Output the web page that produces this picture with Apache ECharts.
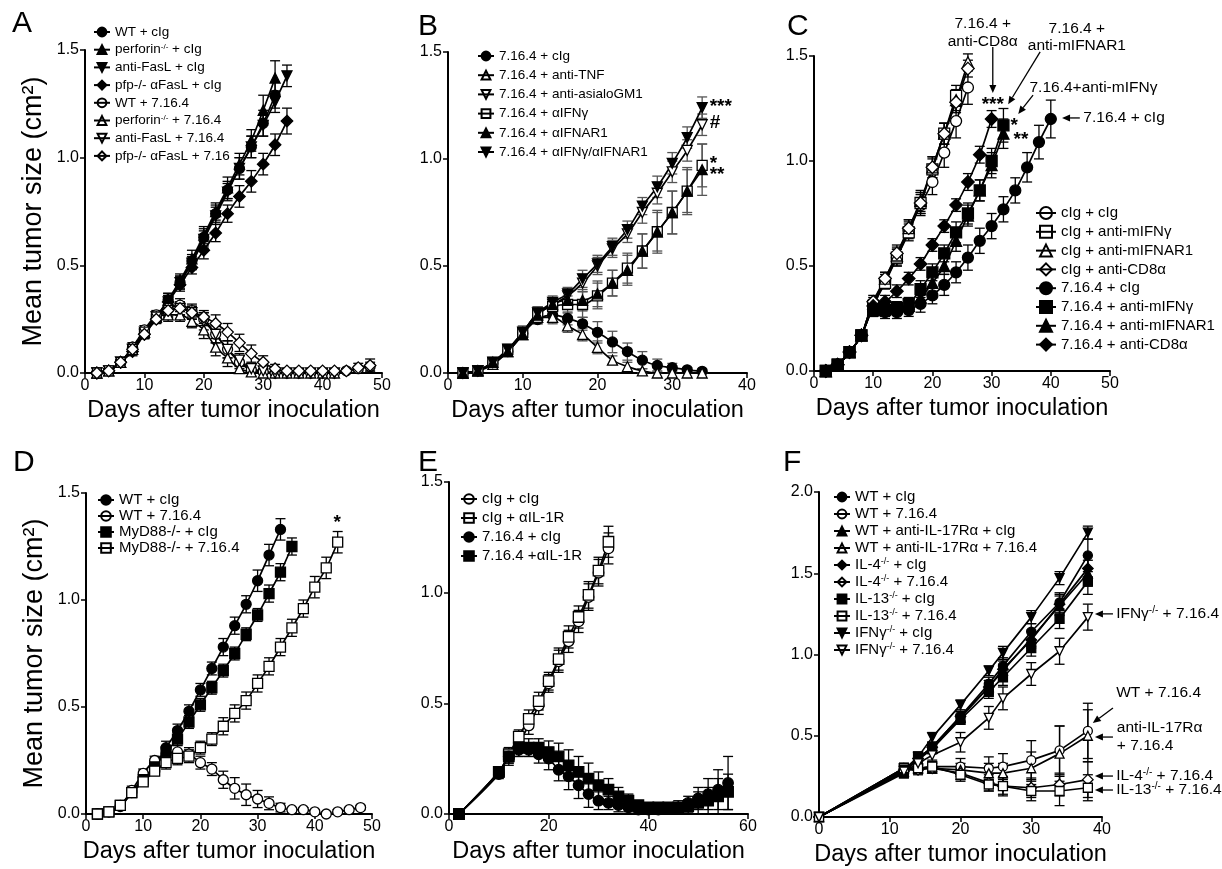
<!DOCTYPE html>
<html><head><meta charset="utf-8">
<script src="https://cdn.jsdelivr.net/npm/echarts@6/dist/echarts.min.js"></script>
<style>html,body{margin:0;padding:0;background:#fff}#c{width:1222px;height:869px}</style>
</head><body><div id="c"></div><script>
// ---------------- DATA ----------------
const xAxisTitle = 'Days after tumor inoculation';
const yAxisTitle = 'Mean tumor size (cm²)';

// Panel A
const daysA = [2,4,6,8,10,12,14,16,18,20,22,24,26,28,30,32,34,36,38,40,42,44,46,48];
const A_wt_cig = [0,0.01,0.05,0.12,0.19,0.26,0.34,0.42,0.52,0.63,0.74,0.85,0.95,1.05,1.16,1.29];
const A_wt_cig_err = [0.005,0.01,0.01,0.02,0.02,0.02,0.03,0.03,0.03,0.04,0.04,0.04,0.05,0.05,0.06,0.06];
const A_pfn_cig = [0,0.01,0.05,0.11,0.19,0.26,0.34,0.43,0.53,0.64,0.75,0.86,0.97,1.08,1.22,1.37];
const A_pfn_cig_err = [0.005,0.01,0.01,0.02,0.02,0.02,0.03,0.03,0.04,0.04,0.04,0.05,0.05,0.05,0.07,0.08];
const A_fasl_cig = [0,0.01,0.05,0.11,0.18,0.26,0.33,0.42,0.51,0.62,0.73,0.84,0.95,1.05,1.15,1.26,1.38];
const A_fasl_cig_err = [0.005,0.01,0.01,0.02,0.02,0.02,0.03,0.03,0.03,0.04,0.04,0.04,0.05,0.05,0.05,0.05,0.05];
const A_pfpf_cig = [0,0.01,0.05,0.1,0.18,0.25,0.33,0.41,0.49,0.57,0.65,0.74,0.82,0.89,0.97,1.06,1.17];
const A_pfpf_cig_err = [0.005,0.01,0.01,0.02,0.02,0.02,0.03,0.03,0.03,0.04,0.04,0.04,0.05,0.05,0.05,0.05,0.06];
const A_wt_716 = [0,0.01,0.05,0.12,0.2,0.27,0.3,0.315,0.29,0.25,0.18,0.11,0.05,0.015,0.005,0,0,0,0,0,0,0.01,0.02,0.03];
const A_wt_716_err = [0.005,0.01,0.01,0.02,0.02,0.02,0.03,0.03,0.03,0.03,0.04,0.04,0.03,0.02,0.01,0.005,0.005,0.005,0.005,0.005,0.005,0.01,0.01,0.02];
const A_pfn_716 = [0,0.01,0.05,0.11,0.19,0.26,0.27,0.27,0.24,0.2,0.12,0.07,0.02,0.005,0,0,0,0,0,0,0];
const A_pfn_716_err = [0.005,0.01,0.01,0.02,0.02,0.02,0.03,0.03,0.03,0.04,0.04,0.04,0.03,0.01,0.005,0.005,0.005,0.005,0.005,0.005,0.005];
const A_fasl_716 = [0,0.01,0.05,0.11,0.19,0.26,0.29,0.3,0.28,0.24,0.18,0.11,0.06,0.02,0.01,0,0,0,0,0,0];
const A_fasl_716_err = [0.005,0.01,0.01,0.02,0.02,0.02,0.03,0.03,0.03,0.04,0.04,0.04,0.03,0.02,0.01,0.005,0.005,0.005,0.005,0.005,0.005];
const A_pfpf_716 = [0,0.01,0.05,0.11,0.18,0.25,0.29,0.3,0.28,0.26,0.23,0.19,0.14,0.09,0.05,0.02,0.01,0.01,0.01,0.01,0.01,0.01,0.025,0.035];
const A_pfpf_716_err = [0.005,0.01,0.01,0.02,0.02,0.02,0.03,0.03,0.03,0.03,0.04,0.04,0.04,0.04,0.03,0.02,0.01,0.01,0.01,0.01,0.01,0.01,0.02,0.03];

// Panel B
const daysB = [2,4,6,8,10,12,14,16,18,20,22,24,26,28,30,32,34];
const B_cig = [0,0.01,0.045,0.1,0.185,0.25,0.27,0.255,0.23,0.19,0.145,0.1,0.06,0.035,0.025,0.015,0.008];
const B_cig_err = [0.005,0.01,0.01,0.02,0.02,0.02,0.03,0.03,0.03,0.05,0.05,0.04,0.04,0.03,0.02,0.01,0.01];
const B_tnf = [0,0.01,0.04,0.1,0.18,0.26,0.26,0.22,0.18,0.12,0.06,0.03,0.01,0,0,0,0];
const B_tnf_err = [0.005,0.01,0.01,0.02,0.02,0.03,0.03,0.03,0.03,0.03,0.02,0.02,0.01,0.01,0.01,0.01,0.01];
const B_asgm = [0,0.01,0.05,0.11,0.19,0.28,0.32,0.36,0.42,0.5,0.58,0.65,0.75,0.84,0.94,1.04,1.16];
const B_asgm_err = [0.005,0.01,0.01,0.02,0.03,0.03,0.03,0.03,0.04,0.04,0.04,0.04,0.05,0.05,0.05,0.05,0.05];
const B_ifng = [0,0.01,0.05,0.11,0.19,0.28,0.31,0.32,0.32,0.36,0.42,0.49,0.57,0.66,0.75,0.85,0.97];
const B_ifng_err = [0.01,0.01,0.01,0.02,0.02,0.03,0.03,0.04,0.06,0.06,0.06,0.07,0.08,0.09,0.1,0.1,0.1];
const B_ifnar = [0,0.01,0.05,0.1,0.18,0.27,0.32,0.34,0.34,0.37,0.42,0.48,0.57,0.66,0.75,0.85,0.95];
const B_ifnar_err = [0.01,0.01,0.01,0.02,0.02,0.03,0.03,0.04,0.05,0.06,0.06,0.07,0.08,0.1,0.1,0.11,0.12];
const B_both = [0,0.01,0.05,0.11,0.19,0.28,0.33,0.37,0.44,0.51,0.59,0.67,0.78,0.87,0.98,1.1,1.24];
const B_both_err = [0.005,0.01,0.01,0.02,0.02,0.03,0.03,0.03,0.04,0.04,0.04,0.04,0.04,0.05,0.05,0.05,0.05];

// Panel C
const daysC = [2,4,6,8,10,12,14,16,18,20,22,24,26,28,30,32,34,36,38,40];
const C_cc = [0,0.03,0.09,0.17,0.31,0.43,0.54,0.67,0.79,0.9,1.04,1.19,1.35];
const C_cc_err = [0.01,0.01,0.02,0.02,0.03,0.03,0.04,0.04,0.05,0.06,0.07,0.08,0.08];
const C_cifng = [0,0.03,0.09,0.17,0.31,0.42,0.54,0.66,0.8,0.96,1.13,1.31];
const C_cifng_err = [0.01,0.01,0.02,0.02,0.03,0.03,0.04,0.04,0.05,0.05,0.05,0.05];
const C_cifnar = [0,0.03,0.09,0.17,0.32,0.44,0.55,0.68,0.81,0.97,1.13,1.29,1.47];
const C_cifnar_err = [0.01,0.01,0.02,0.02,0.03,0.03,0.04,0.04,0.05,0.05,0.05,0.05,0.04];
const C_ccd8 = [0,0.03,0.09,0.17,0.33,0.44,0.56,0.68,0.8,0.97,1.13,1.28,1.44];
const C_ccd8_err = [0.01,0.01,0.02,0.02,0.03,0.03,0.04,0.04,0.05,0.05,0.05,0.05,0.04];
const C_tc = [0,0.03,0.09,0.17,0.29,0.28,0.28,0.29,0.32,0.36,0.41,0.47,0.54,0.62,0.69,0.77,0.86,0.97,1.09,1.2];
const C_tc_err = [0.01,0.01,0.02,0.02,0.03,0.03,0.03,0.03,0.04,0.04,0.05,0.05,0.06,0.06,0.06,0.06,0.06,0.07,0.08,0.09];
const C_tifng = [0,0.03,0.09,0.17,0.29,0.29,0.3,0.32,0.39,0.47,0.56,0.66,0.75,0.86,1.0,1.17];
const C_tifng_err = [0.01,0.01,0.02,0.02,0.03,0.03,0.03,0.03,0.04,0.04,0.04,0.05,0.05,0.05,0.06,0.08];
const C_tifnar = [0,0.03,0.09,0.17,0.29,0.3,0.3,0.31,0.35,0.42,0.5,0.62,0.74,0.86,0.98,1.13];
const C_tifnar_err = [0.01,0.01,0.02,0.02,0.03,0.03,0.03,0.03,0.04,0.04,0.04,0.05,0.05,0.05,0.06,0.07];
const C_tcd8 = [0,0.03,0.09,0.17,0.31,0.33,0.38,0.44,0.51,0.6,0.69,0.79,0.9,1.03,1.2];
const C_tcd8_err = [0.01,0.01,0.02,0.02,0.03,0.03,0.03,0.03,0.03,0.03,0.03,0.03,0.04,0.04,0.04];

// Panel D
const daysD = [2,4,6,8,10,12,14,16,18,20,22,24,26,28,30,32,34,36,38,40,42,44,46,48];
const D_wc = [0,0.01,0.035,0.1,0.17,0.22,0.31,0.39,0.48,0.58,0.68,0.78,0.88,0.98,1.09,1.21,1.33];
const D_wc_err = [0.005,0.01,0.01,0.02,0.02,0.02,0.03,0.03,0.03,0.03,0.03,0.04,0.04,0.04,0.05,0.05,0.05];
const D_w7 = [0,0.01,0.04,0.11,0.19,0.25,0.28,0.29,0.28,0.24,0.21,0.16,0.12,0.09,0.07,0.05,0.03,0.02,0.02,0.01,0,0.01,0.02,0.03];
const D_w7_err = [0.005,0.01,0.01,0.02,0.02,0.02,0.03,0.03,0.03,0.03,0.03,0.04,0.05,0.05,0.04,0.03,0.02,0.01,0.01,0.01,0.01,0.01,0.01,0.01];
const D_mc = [0,0.01,0.04,0.1,0.16,0.22,0.29,0.35,0.43,0.51,0.59,0.67,0.75,0.84,0.93,1.03,1.13,1.25];
const D_mc_err = [0.005,0.01,0.01,0.02,0.02,0.02,0.03,0.03,0.03,0.03,0.03,0.03,0.03,0.03,0.03,0.04,0.04,0.04];
const D_m7 = [0,0.01,0.04,0.1,0.15,0.2,0.24,0.26,0.27,0.31,0.35,0.41,0.47,0.53,0.61,0.69,0.78,0.87,0.96,1.06,1.15,1.27];
const D_m7_err = [0.005,0.01,0.01,0.02,0.02,0.02,0.03,0.03,0.03,0.03,0.03,0.04,0.04,0.04,0.04,0.04,0.04,0.04,0.04,0.05,0.05,0.05];

// Panel E
const daysE = [2,10,12,14,16,18,20,22,24,26,28,30,32,34,36,38,40,42,44,46,48,50,52,54,56];
const E_cc = [0,0.19,0.26,0.32,0.4,0.49,0.59,0.69,0.78,0.87,0.98,1.09,1.2];
const E_cc_err = [0.005,0.02,0.03,0.03,0.04,0.04,0.04,0.05,0.05,0.05,0.06,0.06,0.07];
const E_cil = [0,0.19,0.27,0.35,0.43,0.51,0.6,0.7,0.8,0.89,0.99,1.1,1.23];
const E_cil_err = [0.005,0.02,0.03,0.03,0.04,0.04,0.04,0.05,0.05,0.05,0.06,0.06,0.07];
const E_tc = [0,0.18,0.26,0.29,0.29,0.27,0.25,0.2,0.17,0.13,0.09,0.06,0.05,0.04,0.03,0.02,0.02,0.02,0.025,0.03,0.05,0.07,0.09,0.11,0.14];
const E_tc_err = [0.005,0.02,0.04,0.03,0.03,0.04,0.05,0.05,0.06,0.06,0.06,0.04,0.03,0.03,0.02,0.02,0.02,0.02,0.02,0.02,0.03,0.05,0.07,0.09,0.12];
const E_til = [0,0.19,0.26,0.3,0.3,0.3,0.28,0.26,0.22,0.19,0.16,0.13,0.11,0.08,0.06,0.04,0.03,0.03,0.03,0.03,0.035,0.05,0.06,0.08,0.1];
const E_til_err = [0.005,0.02,0.03,0.04,0.04,0.04,0.05,0.06,0.07,0.07,0.07,0.06,0.05,0.04,0.03,0.02,0.02,0.02,0.02,0.03,0.03,0.05,0.06,0.08,0.08];

// Panel F
const daysF = [0,12,14,16,20,24,26,30,34,38];
const F_wt_cig = [0,0.28,0.36,0.43,0.62,0.82,0.93,1.14,1.32,1.61];
const F_wt_cig_err = [0,0.03,0.03,0.03,0.03,0.04,0.05,0.05,0.06,0.1];
const F_wt_716 = [0,0.3,0.3,0.31,0.31,0.3,0.31,0.35,0.41,0.53];
const F_wt_716_err = [0,0.03,0.03,0.03,0.05,0.07,0.08,0.12,0.15,0.17];
const F_il17_cig = [0,0.28,0.35,0.42,0.61,0.8,0.9,1.1,1.3,1.5];
const F_il17_cig_err = [0,0.03,0.03,0.03,0.03,0.04,0.04,0.05,0.06,0.08];
const F_il17_716 = [0,0.3,0.3,0.3,0.29,0.27,0.27,0.3,0.39,0.5];
const F_il17_716_err = [0,0.03,0.03,0.03,0.04,0.06,0.06,0.1,0.17,0.16];
const F_il4_cig = [0,0.28,0.36,0.43,0.62,0.8,0.91,1.09,1.31,1.53];
const F_il4_cig_err = [0,0.03,0.03,0.03,0.03,0.04,0.05,0.05,0.06,0.08];
const F_il4_716 = [0,0.29,0.29,0.3,0.27,0.21,0.19,0.18,0.2,0.23];
const F_il4_716_err = [0,0.03,0.03,0.03,0.04,0.05,0.05,0.06,0.07,0.11];
const F_il13_cig = [0,0.27,0.37,0.42,0.6,0.77,0.86,1.04,1.22,1.45];
const F_il13_cig_err = [0,0.03,0.03,0.03,0.03,0.04,0.05,0.05,0.06,0.08];
const F_il13_716 = [0,0.3,0.3,0.31,0.26,0.2,0.19,0.16,0.16,0.18];
const F_il13_716_err = [0,0.03,0.03,0.03,0.04,0.04,0.06,0.06,0.09,0.08];
const F_ifng_cig = [0,0.29,0.37,0.49,0.69,0.9,1.01,1.23,1.47,1.75];
const F_ifng_cig_err = [0,0.03,0.03,0.03,0.03,0.03,0.04,0.04,0.04,0.04];
const F_ifng_716 = [0,0.28,0.33,0.38,0.46,0.61,0.73,0.88,1.02,1.23];
const F_ifng_716_err = [0,0.03,0.03,0.03,0.06,0.07,0.07,0.07,0.08,0.08];

// Annotations (data units)
const notesB = [{t:'***', at:[35,1.245]}, {t:'#', at:[35,1.17]}, {t:'*', at:[35,0.98]}, {t:'**', at:[35,0.925]}];
const notesC = [
  {t:'7.16.4 +\nanti-CD8α', at:[28.5,1.61], align:'center'},
  {t:'7.16.4 +\nanti-mIFNAR1', at:[44.4,1.59], align:'center'},
  {t:'7.16.4+anti-mIFNγ', at:[36.4,1.35]},
  {t:'***', at:[30.2,1.27], align:'center'},
  {t:'*', at:[33.2,1.17]},
  {t:'**', at:[33.7,1.1]},
  {t:'7.16.4 + cIg', at:[45.5,1.205]}
];
const arrowsC = [[[30.2,1.543],[30.2,1.324]], [[38.2,1.52],[32.8,1.27]], [[37.0,1.314],[34.5,1.224]], [[44.9,1.205],[41.9,1.205]]];
const notesD = [{t:'*', at:[43.9,1.36], align:'center'}];
const notesF = [
  {t:'IFNγ⁻/⁻ + 7.16.4', at:[42.0,1.25]},
  {t:'WT + 7.16.4', at:[42.0,0.763]},
  {t:'anti-IL-17Rα\n+ 7.16.4', at:[42.1,0.495]},
  {t:'IL-4⁻/⁻ + 7.16.4', at:[42.0,0.252]},
  {t:'IL-13⁻/⁻ + 7.16.4', at:[42.0,0.166]}
];
const arrowsF = [[[41.55,1.25],[39.0,1.25]], [[41.55,0.671],[38.7,0.578]], [[41.55,0.492],[39.0,0.492]], [[41.55,0.252],[39.0,0.252]], [[41.55,0.166],[39.0,0.166]]];

// ---------------- CHART ----------------
const FONT = '"Liberation Sans", Arial, Helvetica, sans-serif';
const TRI_DOWN = 'path://M0,0L10,0L5,10Z';
const SYM = {circle:'circle', square:'rect', tri:'triangle', triDown:TRI_DOWN, diamond:'diamond'};
const SUP = '⁻/⁻';
const supFmt = n => n.split(SUP).join('{s|-/-}');

const panels = [
 {letter:'A', lp:[12,9], grid:{left:85,top:50,width:297,height:323}, xMax:50, xInt:10, yMax:1.5, yName:true, days:daysA, smooth:0.35, ss:10, err:'#000',
  lg:{left:93, top:25, fs:13.5, lh:14, gap:3.7, iw:16, ih:11},
  s:[{n:'WT + cIg', y:'circle', f:1, v:A_wt_cig, e:A_wt_cig_err},
     {n:'perforin⁻/⁻ + cIg', y:'tri', f:1, v:A_pfn_cig, e:A_pfn_cig_err},
     {n:'anti-FasL + cIg', y:'triDown', f:1, v:A_fasl_cig, e:A_fasl_cig_err},
     {n:'pfp-/- αFasL + cIg', y:'diamond', f:1, v:A_pfpf_cig, e:A_pfpf_cig_err},
     {n:'WT + 7.16.4', y:'circle', f:0, v:A_wt_716, e:A_wt_716_err},
     {n:'perforin⁻/⁻ + 7.16.4', y:'tri', f:0, v:A_pfn_716, e:A_pfn_716_err},
     {n:'anti-FasL + 7.16.4', y:'triDown', f:0, v:A_fasl_716, e:A_fasl_716_err},
     {n:'pfp-/- αFasL + 7.16', y:'diamond', f:0, v:A_pfpf_716, e:A_pfpf_716_err}]},
 {letter:'B', lp:[418,12], grid:{left:448,top:52,width:299,height:321}, xMax:40, xInt:10, yMax:1.5, days:daysB, smooth:0.35, ss:10, err:'#555',
  lg:{left:477, top:48.5, fs:13.5, lh:15, gap:4.2, iw:16, ih:11},
  s:[{n:'7.16.4 + cIg', y:'circle', f:1, v:B_cig, e:B_cig_err},
     {n:'7.16.4 + anti-TNF', y:'tri', f:0, v:B_tnf, e:B_tnf_err},
     {n:'7.16.4 + anti-asialoGM1', y:'triDown', f:0, v:B_asgm, e:B_asgm_err},
     {n:'7.16.4 + αIFNγ', y:'square', f:0, v:B_ifng, e:B_ifng_err},
     {n:'7.16.4 + αIFNAR1', y:'tri', f:1, v:B_ifnar, e:B_ifnar_err},
     {n:'7.16.4 + αIFNγ/αIFNAR1', y:'triDown', f:1, v:B_both, e:B_both_err}]},
 {letter:'C', lp:[787,12], grid:{left:814,top:56,width:296,height:315}, xMax:50, xInt:10, yMax:1.5, days:daysC, smooth:0.35, ss:11, err:'#000',
  lg:{left:1035, top:205, fs:15, lh:16, gap:2.8, iw:20, ih:15},
  s:[{n:'cIg + cIg', y:'circle', f:0, v:C_cc, e:C_cc_err},
     {n:'cIg + anti-mIFNγ', y:'square', f:0, v:C_cifng, e:C_cifng_err},
     {n:'cIg + anti-mIFNAR1', y:'tri', f:0, v:C_cifnar, e:C_cifnar_err},
     {n:'cIg + anti-CD8α', y:'diamond', f:0, v:C_ccd8, e:C_ccd8_err},
     {n:'7.16.4 + cIg', y:'circle', f:1, v:C_tc, e:C_tc_err},
     {n:'7.16.4 + anti-mIFNγ', y:'square', f:1, v:C_tifng, e:C_tifng_err},
     {n:'7.16.4 + anti-mIFNAR1', y:'tri', f:1, v:C_tifnar, e:C_tifnar_err},
     {n:'7.16.4 + anti-CD8α', y:'diamond', f:1, v:C_tcd8, e:C_tcd8_err}]},
 {letter:'D', lp:[13,448], grid:{left:86,top:493,width:286,height:321}, xMax:50, xInt:10, yMax:1.5, yName:true, days:daysD, smooth:0.35, ss:10, err:'#000',
  lg:{left:97, top:492.5, fs:15, lh:15, gap:1, iw:16, ih:12},
  s:[{n:'WT + cIg', y:'circle', f:1, v:D_wc, e:D_wc_err},
     {n:'WT + 7.16.4', y:'circle', f:0, v:D_w7, e:D_w7_err},
     {n:'MyD88-/- + cIg', y:'square', f:1, v:D_mc, e:D_mc_err},
     {n:'MyD88-/- + 7.16.4', y:'square', f:0, v:D_m7, e:D_m7_err}]},
 {letter:'E', lp:[418,448], grid:{left:449,top:482,width:299,height:332}, xMax:60, xInt:20, yMax:1.5, days:daysE, smooth:0.35, ss:10.5, err:'#000',
  lg:{left:460, top:491, fs:15, lh:16, gap:3, iw:16, ih:12},
  s:[{n:'cIg + cIg', y:'circle', f:0, v:E_cc, e:E_cc_err},
     {n:'cIg + αIL-1R', y:'square', f:0, v:E_cil, e:E_cil_err},
     {n:'7.16.4 + cIg', y:'circle', f:1, v:E_tc, e:E_tc_err},
     {n:'7.16.4 +αIL-1R', y:'square', f:1, v:E_til, e:E_til_err}]},
 {letter:'F', lp:[783,448], grid:{left:819,top:492,width:283,height:325}, xMax:40, xInt:10, yMax:2.0, days:daysF, smooth:false, ss:9, err:'#000',
  lg:{left:833, top:489, fs:15, lh:16, gap:1, iw:16, ih:11},
  s:[{n:'WT + cIg', y:'circle', f:1, v:F_wt_cig, e:F_wt_cig_err},
     {n:'WT + 7.16.4', y:'circle', f:0, v:F_wt_716, e:F_wt_716_err},
     {n:'WT + anti-IL-17Rα + cIg', y:'tri', f:1, v:F_il17_cig, e:F_il17_cig_err},
     {n:'WT + anti-IL-17Rα + 7.16.4', y:'tri', f:0, v:F_il17_716, e:F_il17_716_err},
     {n:'IL-4⁻/⁻ + cIg', y:'diamond', f:1, v:F_il4_cig, e:F_il4_cig_err},
     {n:'IL-4⁻/⁻ + 7.16.4', y:'diamond', f:0, v:F_il4_716, e:F_il4_716_err},
     {n:'IL-13⁻/⁻ + cIg', y:'square', f:1, v:F_il13_cig, e:F_il13_cig_err},
     {n:'IL-13⁻/⁻ + 7.16.4', y:'square', f:0, v:F_il13_716, e:F_il13_716_err},
     {n:'IFNγ⁻/⁻ + cIg', y:'triDown', f:1, v:F_ifng_cig, e:F_ifng_cig_err},
     {n:'IFNγ⁻/⁻ + 7.16.4', y:'triDown', f:0, v:F_ifng_716, e:F_ifng_716_err}]}
];

function errRender(color) {
  return function (params, api) {
    const x = api.value(0), y = api.value(1), e = api.value(2);
    if (!e) return null;
    const hi = api.coord([x, y + e]);
    const lo = api.coord([x, Math.max(0, y - e)]);
    const w = 5;
    const st = {stroke: color, lineWidth: 1.3};
    return {type: 'group', children: [
      {type: 'line', shape: {x1: hi[0], y1: hi[1], x2: lo[0], y2: lo[1]}, style: st},
      {type: 'line', shape: {x1: hi[0] - w, y1: hi[1], x2: hi[0] + w, y2: hi[1]}, style: st},
      {type: 'line', shape: {x1: lo[0] - w, y1: lo[1], x2: lo[0] + w, y2: lo[1]}, style: st}
    ]};
  };
}

const option = {animation: false, backgroundColor: '#fff',
  title: [], grid: [], xAxis: [], yAxis: [], legend: [], series: []};

panels.forEach((p, gi) => {
  option.title.push({text: p.letter, left: p.lp[0], top: p.lp[1], padding: 0,
    textStyle: {fontFamily: FONT, fontSize: 30, fontWeight: 'normal', color: '#000'}});
  option.grid.push(Object.assign({outerBoundsMode: 'none', containLabel: false}, p.grid));
  option.xAxis.push({type: 'value', gridIndex: gi, min: 0, max: p.xMax, interval: p.xInt,
    name: xAxisTitle, nameLocation: 'middle', nameGap: 26, nameMoveOverlap: false,
    nameTextStyle: {fontFamily: FONT, fontSize: 23.5, color: '#000'},
    axisLine: {onZero: false, lineStyle: {color: '#000', width: 2}},
    axisTick: {length: 5, lineStyle: {color: '#000', width: 1.5}},
    axisLabel: {fontFamily: FONT, fontSize: 16, color: '#000', margin: 5},
    splitLine: {show: false}});
  option.yAxis.push({type: 'value', gridIndex: gi, min: 0, max: p.yMax, interval: 0.5,
    name: p.yName ? yAxisTitle : '', nameLocation: 'middle', nameGap: 38, nameRotate: 90, nameMoveOverlap: false,
    nameTextStyle: {fontFamily: FONT, fontSize: 27, color: '#000'},
    axisLine: {onZero: false, lineStyle: {color: '#000', width: 2}},
    axisTick: {length: 5, lineStyle: {color: '#000', width: 1.5}},
    axisLabel: {fontFamily: FONT, fontSize: 16, color: '#000', margin: 6, formatter: v => v.toFixed(1)},
    splitLine: {show: false}});
  option.legend.push({left: p.lg.left, top: p.lg.top, orient: 'vertical', padding: 0,
    itemGap: p.lg.gap, itemWidth: p.lg.iw, itemHeight: p.lg.ih, selectedMode: false,
    textStyle: {fontFamily: FONT, fontSize: p.lg.fs, lineHeight: p.lg.lh, color: '#000',
      rich: {s: {fontFamily: FONT, fontSize: Math.round(p.lg.fs * 0.62), verticalAlign: 'top', lineHeight: p.lg.lh, padding: [0, 0, 6, 0], color: '#000'}}},
    formatter: supFmt,
    data: p.s.map(s => s.f ? {name: s.n} : {name: s.n, itemStyle: {color: 'rgba(255,255,255,0)'}})});
  p.s.forEach(s => {
    option.series.push({type: 'line', name: s.n, xAxisIndex: gi, yAxisIndex: gi,
      data: s.v.map((v, i) => [p.days[i], v]), smooth: p.smooth,
      symbol: SYM[s.y], symbolSize: s.y === 'diamond' ? p.ss + 1.5 : p.ss, showSymbol: true,
      lineStyle: {color: '#000', width: 1.7},
      itemStyle: {color: s.f ? '#000' : '#fff', borderColor: '#000', borderWidth: 1.3},
      emphasis: {disabled: true}, z: 3});
    option.series.push({type: 'custom', name: 'sem ' + s.n + ' ' + p.letter, xAxisIndex: gi, yAxisIndex: gi,
      data: s.v.map((v, i) => [p.days[i], v, s.e[i]]), encode: {x: 0, y: 1},
      renderItem: errRender(p.err), silent: true, z: 2});
  });
});

const chart = echarts.init(document.getElementById('c'));
chart.setOption(option);

// annotations positioned through the axes' own scales
const gfx = [];
const richSup = {s: {fontFamily: FONT, fontSize: 10, verticalAlign: 'top', padding: [0, 0, 6, 0], fill: '#000'}};
function addNotes(gi, notes, fs) {
  notes.forEach(nt => {
    const pt = chart.convertToPixel({gridIndex: gi}, nt.at);
    const isStar = /^[*#]+$/.test(nt.t);
    gfx.push({type: 'text', x: pt[0], y: pt[1], silent: true, z: 10,
      style: {text: supFmt(nt.t), fill: '#000',
        fontFamily: FONT, fontSize: isStar ? 19 : fs, fontWeight: isStar ? 'bold' : 'normal',
        lineHeight: isStar ? 19 : fs + 2,
        align: nt.align || 'left', verticalAlign: 'middle',
        textAlign: nt.align || 'left', textVerticalAlign: 'middle', rich: richSup}});
  });
}
function addArrows(gi, arrows) {
  arrows.forEach(a => {
    const p1 = chart.convertToPixel({gridIndex: gi}, a[0]);
    const p2 = chart.convertToPixel({gridIndex: gi}, a[1]);
    const dx = p2[0] - p1[0], dy = p2[1] - p1[1];
    const L = Math.sqrt(dx * dx + dy * dy), ux = dx / L, uy = dy / L;
    const hl = 8, hw = 3.5;
    const bx = p2[0] - ux * hl, by = p2[1] - uy * hl;
    gfx.push({type: 'line', silent: true, z: 10, shape: {x1: p1[0], y1: p1[1], x2: bx, y2: by},
      style: {stroke: '#000', lineWidth: 1.3}});
    gfx.push({type: 'polygon', silent: true, z: 10,
      shape: {points: [[p2[0], p2[1]], [bx - uy * hw, by + ux * hw], [bx + uy * hw, by - ux * hw]]},
      style: {fill: '#000'}});
  });
}
addNotes(1, notesB, 15);
addNotes(2, notesC, 15.5);
addArrows(2, arrowsC);
addNotes(3, notesD, 15);
addNotes(5, notesF, 15.5);
addArrows(5, arrowsF);
chart.setOption({graphic: {elements: gfx}});
</script></body></html>
